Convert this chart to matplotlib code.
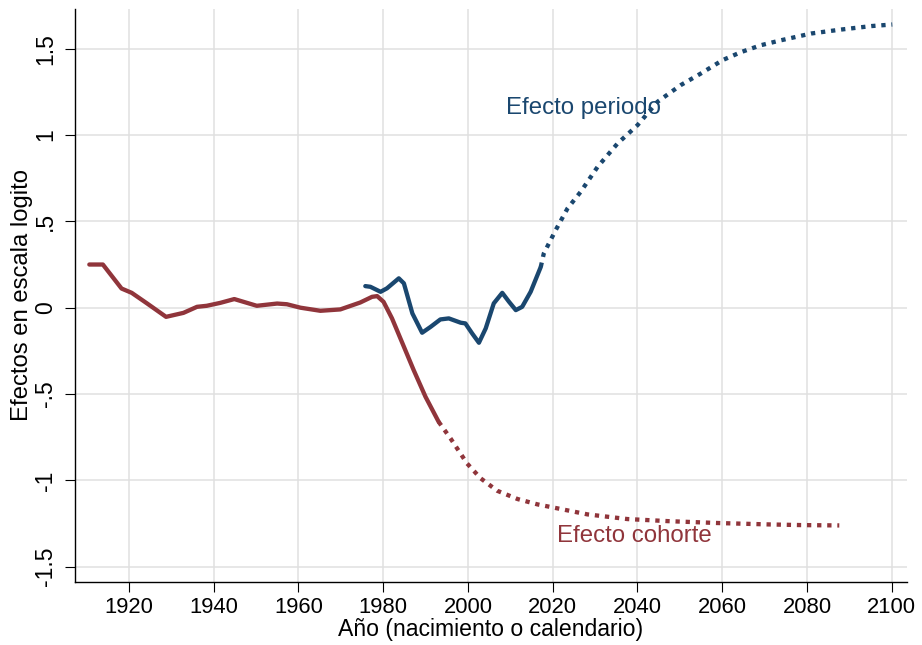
import numpy
import matplotlib
matplotlib.use('Agg')
import matplotlib.pyplot as plt

plt.rcParams['font.family'] = ['Liberation Sans', 'DejaVu Sans']

## efecto cohorte (observado)
coh_anio  = [1910.7,1913.9,1918.3,1920.7,1924.3,1928.8,1932.9,1936.1,1938.4,1941.6,1944.9,1950.2,1955.0,1957.3,1960.5,1965.2,1969.9,1974.6,1977.4,1978.6,1980.1,1982.1,1984.9,1987.2,1990.0,1993.1]
coh_valor = [0.25,0.25,0.111,0.086,0.025,-0.053,-0.03,0.005,0.011,0.028,0.05,0.011,0.024,0.02,0.0,-0.018,-0.01,0.03,0.063,0.067,0.034,-0.062,-0.226,-0.361,-0.516,-0.661]
## efecto cohorte (proyectado)
cohp_anio  = [1993.1,1995.9,1999.8,2003.0,2006.9,2011.7,2016.4,2021.1,2028.2,2037.6,2047.1,2058.9,2070.7,2078.6,2087.6]
cohp_valor = [-0.661,-0.757,-0.902,-0.988,-1.06,-1.108,-1.139,-1.162,-1.197,-1.224,-1.236,-1.247,-1.255,-1.259,-1.261]

## efecto periodo (observado)
per_anio  = [1975.8,1977.0,1979.4,1980.9,1983.7,1984.9,1986.9,1989.2,1991.2,1993.5,1995.5,1998.3,1999.4,2001.0,2002.6,2004.2,2006.1,2008.1,2009.7,2011.3,2012.8,2014.8,2017.2]
per_valor = [0.125,0.121,0.092,0.112,0.17,0.141,-0.033,-0.145,-0.111,-0.068,-0.062,-0.087,-0.091,-0.149,-0.203,-0.12,0.025,0.086,0.034,-0.014,0.005,0.092,0.237]
## efecto periodo (proyectado)
perp_anio  = [2017.2,2017.9,2020.7,2023.5,2026.6,2030.6,2035.3,2040.0,2044.7,2050.2,2055.0,2060.1,2064.4,2069.1,2073.9,2081.0,2088.1,2095.2,2100.1]
perp_valor = [0.237,0.314,0.449,0.575,0.671,0.816,0.951,1.057,1.192,1.289,1.357,1.434,1.48,1.52,1.549,1.588,1.611,1.631,1.640]

x_ticks = numpy.arange(1920,2101,20)
y_ticks = [-1.5,-1,-0.5,0,0.5,1,1.5]
y_tick_labels = ['-1.5','-1','-.5','0','.5','1','1.5']

azul = '#1a476f'
rojo = '#90353b'

fig = plt.figure(figsize=(9.22,6.45),dpi=100)
ax = fig.add_axes([0.0817,0.0981,0.9017,0.888])

lw = 3.1
punteado = (0,(1.0,1.35))
ax.plot(coh_anio,coh_valor,color=rojo,lw=lw,solid_capstyle='round',solid_joinstyle='round',zorder=3)
ax.plot(cohp_anio,cohp_valor,color=rojo,lw=lw,linestyle=punteado,dash_capstyle='butt',zorder=3)
ax.plot(per_anio,per_valor,color=azul,lw=lw,solid_capstyle='round',solid_joinstyle='round',zorder=3)
ax.plot(perp_anio,perp_valor,color=azul,lw=lw,linestyle=punteado,dash_capstyle='butt',zorder=3)

ax.text(2009.1,1.123,'Efecto periodo',color=azul,fontsize=17.3,va='baseline',ha='left')
ax.text(2021.1,-1.356,'Efecto cohorte',color=rojo,fontsize=17.3,va='baseline',ha='left')

ax.set_xlim(1907.4,2103.5)
ax.set_ylim(-1.587,1.73)
ax.set_xticks(x_ticks)
ax.set_yticks(y_ticks)
ax.set_yticklabels(y_tick_labels,rotation=90,va='center')
ax.tick_params(axis='both',direction='out',length=7,width=0.8,labelsize=16.5,color='black')
ax.tick_params(axis='x',pad=4,labelsize=15.8)
ax.tick_params(axis='y',pad=6)
ax.grid(True,color='#e0e0e0',lw=1.1)
ax.set_axisbelow(True)
for s in ['top','right']:
    ax.spines[s].set_visible(False)
for s in ['left','bottom']:
    ax.spines[s].set_linewidth(1.0)

ax.set_xlabel('Año (nacimiento o calendario)',fontsize=16.6,va='baseline')
ax.xaxis.set_label_coords(0.5,-0.094)
ax.set_ylabel('Efectos en escala logito',fontsize=17.2,va='center')
ax.yaxis.set_label_coords(-0.064,0.5)

fig.savefig('out.png',dpi=100)
